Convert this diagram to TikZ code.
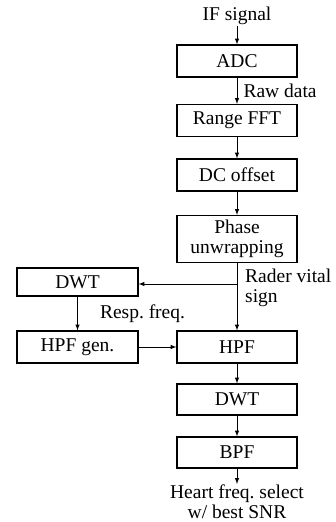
\documentclass[tikz,border=0pt]{standalone}
\usepackage{fontspec}
\setmainfont{Liberation Serif}
\usetikzlibrary{arrows, calc, positioning}
\tikzset{
    block/.style={draw, rectangle, line width=1.2pt, minimum width=120pt, minimum height=32pt, inner sep=1pt, align=center, font=\fontsize{19.5}{20}\selectfont},
    txt/.style={inner sep=1pt, align=center, font=\fontsize{19.5}{20}\selectfont},
    lbl/.style={inner sep=1pt, align=left, font=\fontsize{19.5}{20}\selectfont},
    flow/.style={->, >=latex, line width=1pt},
}
\newcommand{\drawFlow}[4][]{
    \draw[flow] (#2) -- node[lbl, right, xshift=5pt, #1] {#4} (#3);
}
\newcommand{\drawStep}[2]{\drawFlow{#1}{#2}{}}
\frenchspacing

\begin{document}
\begin{tikzpicture}[x=1pt, y=-1pt]
        \useasboundingbox (0,0) rectangle (335,522);

        \node[txt] (ifsig) at (237, 16) {IF signal};
        \node[block] (adc) at (237, 61) {ADC};
        \node[block] (rfft) at (237, 120.5) {Range FFT};
        \node[block] (dcoff) at (237, 175) {DC offset};
        \node[block, minimum height=47pt] (unwrap) at (237, 239) {Phase\\unwrapping};
        \node[block, minimum width=121pt, minimum height=28pt] (dwtr) at (77.5, 282) {DWT};
        \node[block, minimum width=121pt] (hpfgen) at (77.5, 347) {HPF gen.};
        \node[block] (hpf) at (237, 347) {HPF};
        \node[block, minimum height=31pt] (dwth) at (237, 399.5) {DWT};
        \node[block, minimum height=31pt] (bpf) at (237, 452.5) {BPF};
        \node[txt, anchor=north] (heart) at (237, 484) {Heart freq. select\\w/ best SNR};
        \node[lbl, anchor=north west] (vital) at (244, 268) {Rader vital\\sign};
        \coordinate (split) at (237, 284);

        \drawStep{ifsig}{adc}
        \drawFlow{adc}{rfft}{Raw data}
        \drawStep{rfft}{dcoff}
        \drawStep{dcoff}{unwrap}
        \drawStep{unwrap}{hpf}
        \draw[flow] (split) -- (dwtr.east |- split);
        \drawFlow[xshift=16pt]{dwtr}{hpfgen}{Resp. freq.}
        \drawStep{hpfgen}{hpf}
        \drawStep{hpf}{dwth}
        \drawStep{dwth}{bpf}
        \drawStep{bpf}{heart}

\end{tikzpicture}
\end{document}
